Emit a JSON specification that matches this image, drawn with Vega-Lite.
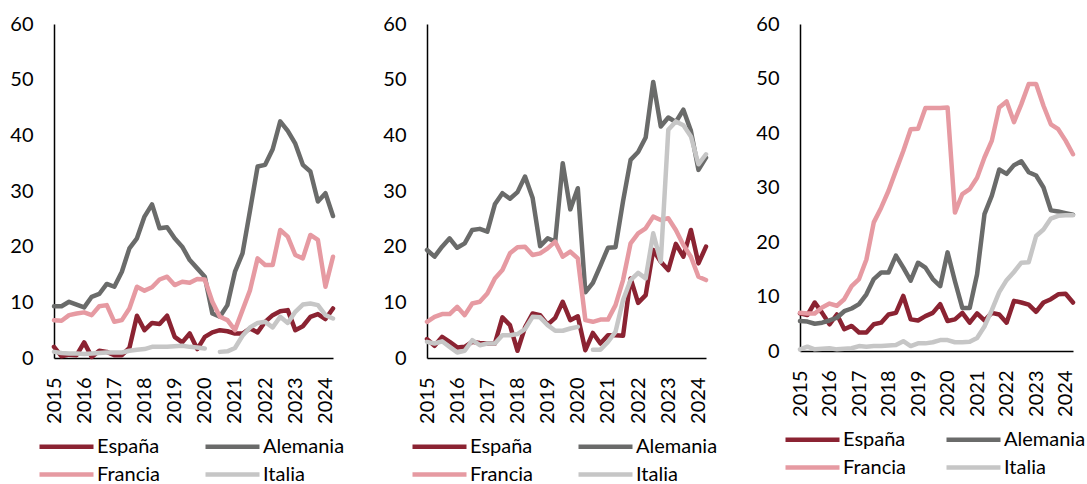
{
  "$schema": "https://vega.github.io/schema/vega-lite/v6.json",
  "padding": {"left": 9, "top": 14, "right": 0, "bottom": 0},
  "background": "white",
  "datasets": {
    "p1": [
      {"t":2015,"c":"España","v":2.0},{"t":2015.25,"c":"España","v":0.3},{"t":2015.5,"c":"España","v":0.6},{"t":2015.75,"c":"España","v":0.5},
      {"t":2016,"c":"España","v":2.8},{"t":2016.25,"c":"España","v":0.2},{"t":2016.5,"c":"España","v":1.3},{"t":2016.75,"c":"España","v":1.1},
      {"t":2017,"c":"España","v":0.5},{"t":2017.25,"c":"España","v":0.5},{"t":2017.5,"c":"España","v":1.8},{"t":2017.75,"c":"España","v":7.6},
      {"t":2018,"c":"España","v":5.0},{"t":2018.25,"c":"España","v":6.3},{"t":2018.5,"c":"España","v":6.1},{"t":2018.75,"c":"España","v":7.6},
      {"t":2019,"c":"España","v":3.8},{"t":2019.25,"c":"España","v":2.8},{"t":2019.5,"c":"España","v":4.4},{"t":2019.75,"c":"España","v":1.6},
      {"t":2020,"c":"España","v":3.8},{"t":2020.25,"c":"España","v":4.6},{"t":2020.5,"c":"España","v":5.0},{"t":2020.75,"c":"España","v":4.8},
      {"t":2021,"c":"España","v":4.4},{"t":2021.25,"c":"España","v":4.4},{"t":2021.5,"c":"España","v":5.3},{"t":2021.75,"c":"España","v":4.6},
      {"t":2022,"c":"España","v":6.5},{"t":2022.25,"c":"España","v":7.7},{"t":2022.5,"c":"España","v":8.4},{"t":2022.75,"c":"España","v":8.6},
      {"t":2023,"c":"España","v":5.0},{"t":2023.25,"c":"España","v":5.7},{"t":2023.5,"c":"España","v":7.4},{"t":2023.75,"c":"España","v":7.9},
      {"t":2024,"c":"España","v":7.0},{"t":2024.25,"c":"España","v":8.9},

      {"t":2015,"c":"Alemania","v":9.3},{"t":2015.25,"c":"Alemania","v":9.3},{"t":2015.5,"c":"Alemania","v":10.1},{"t":2015.75,"c":"Alemania","v":9.6},
      {"t":2016,"c":"Alemania","v":9.1},{"t":2016.25,"c":"Alemania","v":11.0},{"t":2016.5,"c":"Alemania","v":11.5},{"t":2016.75,"c":"Alemania","v":13.3},
      {"t":2017,"c":"Alemania","v":12.8},{"t":2017.25,"c":"Alemania","v":15.5},{"t":2017.5,"c":"Alemania","v":19.7},{"t":2017.75,"c":"Alemania","v":21.5},
      {"t":2018,"c":"Alemania","v":25.4},{"t":2018.25,"c":"Alemania","v":27.6},{"t":2018.5,"c":"Alemania","v":23.3},{"t":2018.75,"c":"Alemania","v":23.5},
      {"t":2019,"c":"Alemania","v":21.5},{"t":2019.25,"c":"Alemania","v":20.0},{"t":2019.5,"c":"Alemania","v":17.6},{"t":2019.75,"c":"Alemania","v":16.1},
      {"t":2020,"c":"Alemania","v":14.6},{"t":2020.25,"c":"Alemania","v":8.0},{"t":2020.5,"c":"Alemania","v":7.4},{"t":2020.75,"c":"Alemania","v":9.5},
      {"t":2021,"c":"Alemania","v":15.5},{"t":2021.25,"c":"Alemania","v":18.8},{"t":2021.5,"c":"Alemania","v":26.5},{"t":2021.75,"c":"Alemania","v":34.4},
      {"t":2022,"c":"Alemania","v":34.7},{"t":2022.25,"c":"Alemania","v":37.5},{"t":2022.5,"c":"Alemania","v":42.5},{"t":2022.75,"c":"Alemania","v":40.8},
      {"t":2023,"c":"Alemania","v":38.5},{"t":2023.25,"c":"Alemania","v":34.7},{"t":2023.5,"c":"Alemania","v":33.5},{"t":2023.75,"c":"Alemania","v":28.1},
      {"t":2024,"c":"Alemania","v":29.6},{"t":2024.25,"c":"Alemania","v":25.5},

      {"t":2015,"c":"Francia","v":6.8},{"t":2015.25,"c":"Francia","v":6.7},{"t":2015.5,"c":"Francia","v":7.7},{"t":2015.75,"c":"Francia","v":8.0},
      {"t":2016,"c":"Francia","v":8.2},{"t":2016.25,"c":"Francia","v":7.7},{"t":2016.5,"c":"Francia","v":9.3},{"t":2016.75,"c":"Francia","v":9.5},
      {"t":2017,"c":"Francia","v":6.5},{"t":2017.25,"c":"Francia","v":6.8},{"t":2017.5,"c":"Francia","v":8.9},{"t":2017.75,"c":"Francia","v":12.8},
      {"t":2018,"c":"Francia","v":12.1},{"t":2018.25,"c":"Francia","v":12.7},{"t":2018.5,"c":"Francia","v":14.1},{"t":2018.75,"c":"Francia","v":14.6},
      {"t":2019,"c":"Francia","v":13.1},{"t":2019.25,"c":"Francia","v":13.7},{"t":2019.5,"c":"Francia","v":13.5},{"t":2019.75,"c":"Francia","v":14.2},
      {"t":2020,"c":"Francia","v":14.1},{"t":2020.25,"c":"Francia","v":10.1},{"t":2020.5,"c":"Francia","v":7.4},{"t":2020.75,"c":"Francia","v":6.8},
      {"t":2021,"c":"Francia","v":5.0},{"t":2021.25,"c":"Francia","v":8.6},{"t":2021.5,"c":"Francia","v":12.2},{"t":2021.75,"c":"Francia","v":17.9},
      {"t":2022,"c":"Francia","v":16.7},{"t":2022.25,"c":"Francia","v":16.7},{"t":2022.5,"c":"Francia","v":23.0},{"t":2022.75,"c":"Francia","v":21.8},
      {"t":2023,"c":"Francia","v":18.5},{"t":2023.25,"c":"Francia","v":17.9},{"t":2023.5,"c":"Francia","v":22.1},{"t":2023.75,"c":"Francia","v":21.2},
      {"t":2024,"c":"Francia","v":12.8},{"t":2024.25,"c":"Francia","v":18.2},

      {"t":2015,"c":"Italia","v":1.1},{"t":2015.25,"c":"Italia","v":0.9},{"t":2015.5,"c":"Italia","v":0.8},{"t":2015.75,"c":"Italia","v":0.8},
      {"t":2016,"c":"Italia","v":0.7},{"t":2016.25,"c":"Italia","v":0.8},{"t":2016.5,"c":"Italia","v":0.9},{"t":2016.75,"c":"Italia","v":1.0},
      {"t":2017,"c":"Italia","v":1.0},{"t":2017.25,"c":"Italia","v":1.0},{"t":2017.5,"c":"Italia","v":1.3},{"t":2017.75,"c":"Italia","v":1.5},
      {"t":2018,"c":"Italia","v":1.6},{"t":2018.25,"c":"Italia","v":2.0},{"t":2018.5,"c":"Italia","v":2.0},{"t":2018.75,"c":"Italia","v":2.0},
      {"t":2019,"c":"Italia","v":2.1},{"t":2019.25,"c":"Italia","v":2.2},{"t":2019.5,"c":"Italia","v":2.0},{"t":2019.75,"c":"Italia","v":1.9},
      {"t":2020,"c":"Italia","v":1.7},{"t":2020.25,"c":"Italia","v":null},{"t":2020.5,"c":"Italia","v":1.1},{"t":2020.75,"c":"Italia","v":1.2},
      {"t":2021,"c":"Italia","v":1.8},{"t":2021.25,"c":"Italia","v":4.0},{"t":2021.5,"c":"Italia","v":5.5},{"t":2021.75,"c":"Italia","v":6.3},
      {"t":2022,"c":"Italia","v":6.5},{"t":2022.25,"c":"Italia","v":5.5},{"t":2022.5,"c":"Italia","v":7.4},{"t":2022.75,"c":"Italia","v":6.3},
      {"t":2023,"c":"Italia","v":8.3},{"t":2023.25,"c":"Italia","v":9.6},{"t":2023.5,"c":"Italia","v":9.8},{"t":2023.75,"c":"Italia","v":9.5},
      {"t":2024,"c":"Italia","v":7.7},{"t":2024.25,"c":"Italia","v":7.1}
    ],
    "p2": [
      {"t":2015,"c":"España","v":3.4},{"t":2015.25,"c":"España","v":2.2},{"t":2015.5,"c":"España","v":3.8},{"t":2015.75,"c":"España","v":2.9},
      {"t":2016,"c":"España","v":1.9},{"t":2016.25,"c":"España","v":2.0},{"t":2016.5,"c":"España","v":2.9},{"t":2016.75,"c":"España","v":2.7},
      {"t":2017,"c":"España","v":2.6},{"t":2017.25,"c":"España","v":2.6},{"t":2017.5,"c":"España","v":7.3},{"t":2017.75,"c":"España","v":5.9},
      {"t":2018,"c":"España","v":1.3},{"t":2018.25,"c":"España","v":5.5},{"t":2018.5,"c":"España","v":8.0},{"t":2018.75,"c":"España","v":7.7},
      {"t":2019,"c":"España","v":6.0},{"t":2019.25,"c":"España","v":7.2},{"t":2019.5,"c":"España","v":10.1},{"t":2019.75,"c":"España","v":6.8},
      {"t":2020,"c":"España","v":7.5},{"t":2020.25,"c":"España","v":1.4},{"t":2020.5,"c":"España","v":4.5},{"t":2020.75,"c":"España","v":2.6},
      {"t":2021,"c":"España","v":4.1},{"t":2021.25,"c":"España","v":4.1},{"t":2021.5,"c":"España","v":4.0},{"t":2021.75,"c":"España","v":14.3},
      {"t":2022,"c":"España","v":9.9},{"t":2022.25,"c":"España","v":11.3},{"t":2022.5,"c":"España","v":19.4},{"t":2022.75,"c":"España","v":17.3},
      {"t":2023,"c":"España","v":15.8},{"t":2023.25,"c":"España","v":20.5},{"t":2023.5,"c":"España","v":18.2},{"t":2023.75,"c":"España","v":23.0},
      {"t":2024,"c":"España","v":17.0},{"t":2024.25,"c":"España","v":20.0},

      {"t":2015,"c":"Alemania","v":19.4},{"t":2015.25,"c":"Alemania","v":18.2},{"t":2015.5,"c":"Alemania","v":20.0},{"t":2015.75,"c":"Alemania","v":21.5},
      {"t":2016,"c":"Alemania","v":19.8},{"t":2016.25,"c":"Alemania","v":20.6},{"t":2016.5,"c":"Alemania","v":23.0},{"t":2016.75,"c":"Alemania","v":23.2},
      {"t":2017,"c":"Alemania","v":22.7},{"t":2017.25,"c":"Alemania","v":27.6},{"t":2017.5,"c":"Alemania","v":29.6},{"t":2017.75,"c":"Alemania","v":28.6},
      {"t":2018,"c":"Alemania","v":29.8},{"t":2018.25,"c":"Alemania","v":32.6},{"t":2018.5,"c":"Alemania","v":28.8},{"t":2018.75,"c":"Alemania","v":20.1},
      {"t":2019,"c":"Alemania","v":21.5},{"t":2019.25,"c":"Alemania","v":20.9},{"t":2019.5,"c":"Alemania","v":35.0},{"t":2019.75,"c":"Alemania","v":26.7},
      {"t":2020,"c":"Alemania","v":30.5},{"t":2020.25,"c":"Alemania","v":11.8},{"t":2020.5,"c":"Alemania","v":13.5},{"t":2020.75,"c":"Alemania","v":16.6},
      {"t":2021,"c":"Alemania","v":19.8},{"t":2021.25,"c":"Alemania","v":19.9},{"t":2021.5,"c":"Alemania","v":28.2},{"t":2021.75,"c":"Alemania","v":35.6},
      {"t":2022,"c":"Alemania","v":37.0},{"t":2022.25,"c":"Alemania","v":39.6},{"t":2022.5,"c":"Alemania","v":49.6},{"t":2022.75,"c":"Alemania","v":41.6},
      {"t":2023,"c":"Alemania","v":43.2},{"t":2023.25,"c":"Alemania","v":42.4},{"t":2023.5,"c":"Alemania","v":44.6},{"t":2023.75,"c":"Alemania","v":40.8},
      {"t":2024,"c":"Alemania","v":33.8},{"t":2024.25,"c":"Alemania","v":36.0},

      {"t":2015,"c":"Francia","v":6.5},{"t":2015.25,"c":"Francia","v":7.4},{"t":2015.5,"c":"Francia","v":7.9},{"t":2015.75,"c":"Francia","v":7.9},
      {"t":2016,"c":"Francia","v":9.2},{"t":2016.25,"c":"Francia","v":7.7},{"t":2016.5,"c":"Francia","v":9.8},{"t":2016.75,"c":"Francia","v":10.1},
      {"t":2017,"c":"Francia","v":11.6},{"t":2017.25,"c":"Francia","v":14.3},{"t":2017.5,"c":"Francia","v":15.8},{"t":2017.75,"c":"Francia","v":18.8},
      {"t":2018,"c":"Francia","v":19.9},{"t":2018.25,"c":"Francia","v":20.0},{"t":2018.5,"c":"Francia","v":18.5},{"t":2018.75,"c":"Francia","v":18.8},
      {"t":2019,"c":"Francia","v":19.7},{"t":2019.25,"c":"Francia","v":20.9},{"t":2019.5,"c":"Francia","v":18.2},{"t":2019.75,"c":"Francia","v":19.1},
      {"t":2020,"c":"Francia","v":17.9},{"t":2020.25,"c":"Francia","v":6.8},{"t":2020.5,"c":"Francia","v":6.5},{"t":2020.75,"c":"Francia","v":6.9},
      {"t":2021,"c":"Francia","v":6.9},{"t":2021.25,"c":"Francia","v":9.5},{"t":2021.5,"c":"Francia","v":14.0},{"t":2021.75,"c":"Francia","v":20.6},
      {"t":2022,"c":"Francia","v":22.4},{"t":2022.25,"c":"Francia","v":23.3},{"t":2022.5,"c":"Francia","v":25.4},{"t":2022.75,"c":"Francia","v":24.8},
      {"t":2023,"c":"Francia","v":25.1},{"t":2023.25,"c":"Francia","v":23.0},{"t":2023.5,"c":"Francia","v":20.3},{"t":2023.75,"c":"Francia","v":18.2},
      {"t":2024,"c":"Francia","v":14.6},{"t":2024.25,"c":"Francia","v":14.0},

      {"t":2015,"c":"Italia","v":2.9},{"t":2015.25,"c":"Italia","v":2.6},{"t":2015.5,"c":"Italia","v":3.0},{"t":2015.75,"c":"Italia","v":2.0},
      {"t":2016,"c":"Italia","v":1.0},{"t":2016.25,"c":"Italia","v":1.3},{"t":2016.5,"c":"Italia","v":3.2},{"t":2016.75,"c":"Italia","v":2.3},
      {"t":2017,"c":"Italia","v":2.6},{"t":2017.25,"c":"Italia","v":2.6},{"t":2017.5,"c":"Italia","v":4.1},{"t":2017.75,"c":"Italia","v":4.1},
      {"t":2018,"c":"Italia","v":4.3},{"t":2018.25,"c":"Italia","v":5.2},{"t":2018.5,"c":"Italia","v":7.4},{"t":2018.75,"c":"Italia","v":7.3},
      {"t":2019,"c":"Italia","v":5.9},{"t":2019.25,"c":"Italia","v":4.9},{"t":2019.5,"c":"Italia","v":4.9},{"t":2019.75,"c":"Italia","v":5.3},
      {"t":2020,"c":"Italia","v":5.6},{"t":2020.25,"c":"Italia","v":null},{"t":2020.5,"c":"Italia","v":1.5},{"t":2020.75,"c":"Italia","v":1.5},
      {"t":2021,"c":"Italia","v":2.9},{"t":2021.25,"c":"Italia","v":4.7},{"t":2021.5,"c":"Italia","v":10.4},{"t":2021.75,"c":"Italia","v":14.0},
      {"t":2022,"c":"Italia","v":15.3},{"t":2022.25,"c":"Italia","v":14.3},{"t":2022.5,"c":"Italia","v":22.4},{"t":2022.75,"c":"Italia","v":17.3},
      {"t":2023,"c":"Italia","v":41.0},{"t":2023.25,"c":"Italia","v":42.5},{"t":2023.5,"c":"Italia","v":41.8},{"t":2023.75,"c":"Italia","v":39.8},
      {"t":2024,"c":"Italia","v":34.8},{"t":2024.25,"c":"Italia","v":36.6}
    ],
    "p3": [
      {"t":2015,"c":"España","v":6.9},{"t":2015.25,"c":"España","v":6.6},{"t":2015.5,"c":"España","v":8.9},{"t":2015.75,"c":"España","v":7.0},
      {"t":2016,"c":"España","v":4.9},{"t":2016.25,"c":"España","v":6.7},{"t":2016.5,"c":"España","v":4.0},{"t":2016.75,"c":"España","v":4.6},
      {"t":2017,"c":"España","v":3.4},{"t":2017.25,"c":"España","v":3.4},{"t":2017.5,"c":"España","v":4.9},{"t":2017.75,"c":"España","v":5.2},
      {"t":2018,"c":"España","v":6.7},{"t":2018.25,"c":"España","v":7.0},{"t":2018.5,"c":"España","v":10.1},{"t":2018.75,"c":"España","v":5.8},
      {"t":2019,"c":"España","v":5.6},{"t":2019.25,"c":"España","v":6.4},{"t":2019.5,"c":"España","v":7.0},{"t":2019.75,"c":"España","v":8.6},
      {"t":2020,"c":"España","v":5.5},{"t":2020.25,"c":"España","v":5.8},{"t":2020.5,"c":"España","v":7.0},{"t":2020.75,"c":"España","v":5.2},
      {"t":2021,"c":"España","v":6.9},{"t":2021.25,"c":"España","v":5.6},{"t":2021.5,"c":"España","v":7.0},{"t":2021.75,"c":"España","v":6.7},
      {"t":2022,"c":"España","v":5.2},{"t":2022.25,"c":"España","v":9.2},{"t":2022.5,"c":"España","v":8.9},{"t":2022.75,"c":"España","v":8.5},
      {"t":2023,"c":"España","v":7.2},{"t":2023.25,"c":"España","v":8.9},{"t":2023.5,"c":"España","v":9.5},{"t":2023.75,"c":"España","v":10.4},
      {"t":2024,"c":"España","v":10.5},{"t":2024.25,"c":"España","v":8.9},

      {"t":2015,"c":"Alemania","v":5.5},{"t":2015.25,"c":"Alemania","v":5.4},{"t":2015.5,"c":"Alemania","v":5.0},{"t":2015.75,"c":"Alemania","v":5.2},
      {"t":2016,"c":"Alemania","v":5.6},{"t":2016.25,"c":"Alemania","v":6.1},{"t":2016.5,"c":"Alemania","v":7.3},{"t":2016.75,"c":"Alemania","v":7.8},
      {"t":2017,"c":"Alemania","v":8.6},{"t":2017.25,"c":"Alemania","v":10.4},{"t":2017.5,"c":"Alemania","v":13.2},{"t":2017.75,"c":"Alemania","v":14.4},
      {"t":2018,"c":"Alemania","v":14.4},{"t":2018.25,"c":"Alemania","v":17.5},{"t":2018.5,"c":"Alemania","v":15.3},{"t":2018.75,"c":"Alemania","v":12.9},
      {"t":2019,"c":"Alemania","v":16.2},{"t":2019.25,"c":"Alemania","v":15.3},{"t":2019.5,"c":"Alemania","v":13.2},{"t":2019.75,"c":"Alemania","v":11.9},
      {"t":2020,"c":"Alemania","v":18.1},{"t":2020.25,"c":"Alemania","v":12.8},{"t":2020.5,"c":"Alemania","v":7.9},{"t":2020.75,"c":"Alemania","v":7.9},
      {"t":2021,"c":"Alemania","v":14.1},{"t":2021.25,"c":"Alemania","v":25.1},{"t":2021.5,"c":"Alemania","v":28.5},{"t":2021.75,"c":"Alemania","v":33.3},
      {"t":2022,"c":"Alemania","v":32.5},{"t":2022.25,"c":"Alemania","v":34.1},{"t":2022.5,"c":"Alemania","v":34.8},{"t":2022.75,"c":"Alemania","v":32.8},
      {"t":2023,"c":"Alemania","v":32.2},{"t":2023.25,"c":"Alemania","v":30.0},{"t":2023.5,"c":"Alemania","v":25.8},{"t":2023.75,"c":"Alemania","v":25.6},
      {"t":2024,"c":"Alemania","v":25.3},{"t":2024.25,"c":"Alemania","v":25.0},

      {"t":2015,"c":"Francia","v":7.0},{"t":2015.25,"c":"Francia","v":6.9},{"t":2015.5,"c":"Francia","v":6.9},{"t":2015.75,"c":"Francia","v":8.0},
      {"t":2016,"c":"Francia","v":8.7},{"t":2016.25,"c":"Francia","v":8.3},{"t":2016.5,"c":"Francia","v":9.5},{"t":2016.75,"c":"Francia","v":11.9},
      {"t":2017,"c":"Francia","v":13.2},{"t":2017.25,"c":"Francia","v":16.8},{"t":2017.5,"c":"Francia","v":23.6},{"t":2017.75,"c":"Francia","v":26.3},
      {"t":2018,"c":"Francia","v":29.4},{"t":2018.25,"c":"Francia","v":33.1},{"t":2018.5,"c":"Francia","v":36.7},{"t":2018.75,"c":"Francia","v":40.7},
      {"t":2019,"c":"Francia","v":40.8},{"t":2019.25,"c":"Francia","v":44.6},{"t":2019.5,"c":"Francia","v":44.6},{"t":2019.75,"c":"Francia","v":44.6},
      {"t":2020,"c":"Francia","v":44.7},{"t":2020.25,"c":"Francia","v":25.4},{"t":2020.5,"c":"Francia","v":28.8},{"t":2020.75,"c":"Francia","v":29.7},
      {"t":2021,"c":"Francia","v":31.8},{"t":2021.25,"c":"Francia","v":35.5},{"t":2021.5,"c":"Francia","v":38.6},{"t":2021.75,"c":"Francia","v":44.7},
      {"t":2022,"c":"Francia","v":45.8},{"t":2022.25,"c":"Francia","v":42.0},{"t":2022.5,"c":"Francia","v":45.3},{"t":2022.75,"c":"Francia","v":49.0},
      {"t":2023,"c":"Francia","v":49.0},{"t":2023.25,"c":"Francia","v":45.0},{"t":2023.5,"c":"Francia","v":41.6},{"t":2023.75,"c":"Francia","v":40.7},
      {"t":2024,"c":"Francia","v":38.6},{"t":2024.25,"c":"Francia","v":36.1},

      {"t":2015,"c":"Italia","v":0.3},{"t":2015.25,"c":"Italia","v":0.8},{"t":2015.5,"c":"Italia","v":0.3},{"t":2015.75,"c":"Italia","v":0.4},
      {"t":2016,"c":"Italia","v":0.5},{"t":2016.25,"c":"Italia","v":0.3},{"t":2016.5,"c":"Italia","v":0.4},{"t":2016.75,"c":"Italia","v":0.5},
      {"t":2017,"c":"Italia","v":0.9},{"t":2017.25,"c":"Italia","v":0.8},{"t":2017.5,"c":"Italia","v":0.9},{"t":2017.75,"c":"Italia","v":0.9},
      {"t":2018,"c":"Italia","v":1.0},{"t":2018.25,"c":"Italia","v":1.1},{"t":2018.5,"c":"Italia","v":1.8},{"t":2018.75,"c":"Italia","v":0.9},
      {"t":2019,"c":"Italia","v":1.4},{"t":2019.25,"c":"Italia","v":1.4},{"t":2019.5,"c":"Italia","v":1.6},{"t":2019.75,"c":"Italia","v":2.0},
      {"t":2020,"c":"Italia","v":2.0},{"t":2020.25,"c":"Italia","v":1.6},{"t":2020.5,"c":"Italia","v":1.6},{"t":2020.75,"c":"Italia","v":1.7},
      {"t":2021,"c":"Italia","v":2.4},{"t":2021.25,"c":"Italia","v":4.5},{"t":2021.5,"c":"Italia","v":7.5},{"t":2021.75,"c":"Italia","v":10.8},
      {"t":2022,"c":"Italia","v":13.0},{"t":2022.25,"c":"Italia","v":14.5},{"t":2022.5,"c":"Italia","v":16.2},{"t":2022.75,"c":"Italia","v":16.3},
      {"t":2023,"c":"Italia","v":21.1},{"t":2023.25,"c":"Italia","v":22.3},{"t":2023.5,"c":"Italia","v":24.3},{"t":2023.75,"c":"Italia","v":24.8},
      {"t":2024,"c":"Italia","v":24.9},{"t":2024.25,"c":"Italia","v":24.9}
    ]
  },
  "spacing": 37,
  "hconcat": [
    {
      "data": {"name": "p1"},
      "width": 279, "height": 334,
      "mark": {"type": "line", "strokeWidth": 4.5, "strokeJoin": "round", "strokeCap": "round", "invalid": "break-paths-filter-domains"},
      "encoding": {
        "x": {"field": "t", "type": "quantitative", "scale": {"domain": [2015, 2024.25], "nice": false, "zero": false}, "axis": {"values": [2015,2016,2017,2018,2019,2020,2021,2022,2023,2024], "format": "d", "title": null}},
        "y": {"field": "v", "type": "quantitative", "scale": {"domain": [0, 60], "nice": false}, "axis": {"values": [0,10,20,30,40,50,60], "title": null}},
        "color": {"field": "c", "type": "nominal", "sort": ["España","Alemania","Francia","Italia"], "scale": {"domain": ["España","Alemania","Francia","Italia"], "range": ["#8B2332","#6A6B6A","#E69AA2","#C6C6C6"]}, "legend": {"title": null}}
      }
    },
    {
      "data": {"name": "p2"},
      "width": 279, "height": 334,
      "mark": {"type": "line", "strokeWidth": 4.5, "strokeJoin": "round", "strokeCap": "round", "invalid": "break-paths-filter-domains"},
      "encoding": {
        "x": {"field": "t", "type": "quantitative", "scale": {"domain": [2015, 2024.25], "nice": false, "zero": false}, "axis": {"values": [2015,2016,2017,2018,2019,2020,2021,2022,2023,2024], "format": "d", "title": null}},
        "y": {"field": "v", "type": "quantitative", "scale": {"domain": [0, 60], "nice": false}, "axis": {"values": [0,10,20,30,40,50,60], "title": null}},
        "color": {"field": "c", "type": "nominal", "sort": ["España","Alemania","Francia","Italia"], "scale": {"domain": ["España","Alemania","Francia","Italia"], "range": ["#8B2332","#6A6B6A","#E69AA2","#C6C6C6"]}, "legend": {"title": null}}
      }
    },
    {
      "data": {"name": "p3"},
      "width": 273, "height": 327,
      "mark": {"type": "line", "strokeWidth": 4.5, "strokeJoin": "round", "strokeCap": "round", "invalid": "break-paths-filter-domains"},
      "encoding": {
        "x": {"field": "t", "type": "quantitative", "scale": {"domain": [2015, 2024.25], "nice": false, "zero": false}, "axis": {"values": [2015,2016,2017,2018,2019,2020,2021,2022,2023,2024], "format": "d", "title": null}},
        "y": {"field": "v", "type": "quantitative", "scale": {"domain": [0, 60], "nice": false}, "axis": {"values": [0,10,20,30,40,50,60], "title": null}},
        "color": {"field": "c", "type": "nominal", "sort": ["España","Alemania","Francia","Italia"], "scale": {"domain": ["España","Alemania","Francia","Italia"], "range": ["#8B2332","#6A6B6A","#E69AA2","#C6C6C6"]}, "legend": {"title": null, "columnPadding": 31}}
      }
    }
  ],
  "resolve": {"scale": {"color": "independent", "x": "independent", "y": "independent"}, "legend": {"color": "independent"}},
  "config": {
    "font": "Lato",
    "view": {"stroke": null},
    "axis": {"grid": false, "ticks": false, "domainColor": "#000000", "domainWidth": 1.5, "labelColor": "#000000", "labelFontSize": 20, "labelFont": "Lato"},
    "axisY": {"labelPadding": 21},
    "axisX": {"labelAngle": -90, "labelPadding": 19},
    "legend": {
      "orient": "bottom",
      "columns": 2,
      "direction": "horizontal",
      "symbolType": "M-2.7,0H2.7",
      "symbolSize": 400,
      "symbolStrokeWidth": 4.5,
      "labelFontSize": 20,
      "labelFont": "Lato",
      "labelColor": "#000000",
      "labelOffset": 18,
      "columnPadding": 36,
      "rowPadding": 5,
      "offset": 10
    }
  }
}
